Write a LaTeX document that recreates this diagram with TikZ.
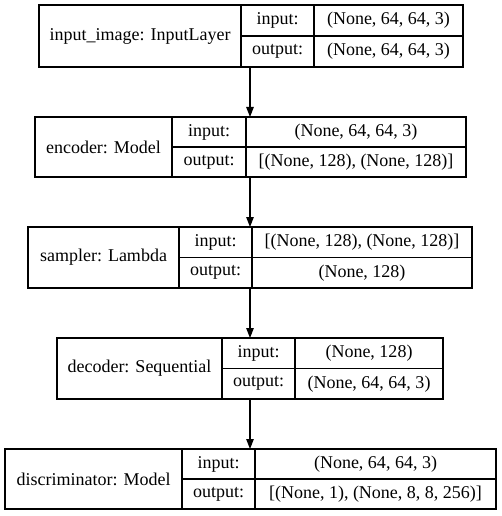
\documentclass[tikz,border=0pt]{standalone}
\usepackage{fontspec}
\setmainfont{Liberation Serif}
\usetikzlibrary{arrows.meta}
\tikzset{
  layer/.style={draw=black, line width=1.2pt, inner sep=0pt},
  cell/.style={draw=black, line width=1.2pt},
  txt/.style={font=\fontsize{18}{21}\selectfont, inner sep=0pt},
  arr/.style={draw=black, line width=1.2pt, -{Triangle[length=10pt,width=7.5pt]}},
}
\newcommand\layerbox[7]{%
  \pgfmathsetmacro\ym{(#6+#7)/2}%
  \node[layer, minimum width={(#5-#2)*1pt}, minimum height={(#7-#6)*1pt}] (#1) at ({(#2+#5)/2},\ym) {};
  \draw[cell] (#3,#6) -- (#3,#7) (#4,#6) -- (#4,#7) (#3,\ym) -- (#5,\ym);
  \coordinate (#1-name) at ({(#2+#3)/2},\ym);
  \coordinate (#1-ik) at ({(#3+#4)/2},{(#6+\ym)/2});
  \coordinate (#1-ok) at ({(#3+#4)/2},{(\ym+#7)/2});
  \coordinate (#1-iv) at ({(#4+#5)/2},{(#6+\ym)/2});
  \coordinate (#1-ov) at ({(#4+#5)/2},{(\ym+#7)/2});
}
\begin{document}
\begin{tikzpicture}[x=1pt,y=-1pt]
\useasboundingbox (0,0) rectangle (501,516);
\fill[white] (0,0) rectangle (501,516);

\layerbox{b1}{39}{241}{314}{463}{5}{67}
\node[txt] at (b1-name) {input\_image: InputLayer};
\node[txt] at (b1-ik) {input:};
\node[txt] at (b1-ok) {output:};
\node[txt] at (b1-iv) {(None, 64, 64, 3)};
\node[txt] at (b1-ov) {(None, 64, 64, 3)};

\layerbox{b2}{35}{172}{246}{466}{117}{177}
\node[txt] at (b2-name) {encoder: Model};
\node[txt] at (b2-ik) {input:};
\node[txt] at (b2-ok) {output:};
\node[txt] at (b2-iv) {(None, 64, 64, 3)};
\node[txt] at (b2-ov) {[(None, 128), (None, 128)]};

\layerbox{b3}{28}{179}{252}{472}{227}{288}
\node[txt] at (b3-name) {sampler: Lambda};
\node[txt] at (b3-ik) {input:};
\node[txt] at (b3-ok) {output:};
\node[txt] at (b3-iv) {[(None, 128), (None, 128)]};
\node[txt] at (b3-ov) {(None, 128)};

\layerbox{b4}{57}{222}{295}{443}{338}{399}
\node[txt] at (b4-name) {decoder: Sequential};
\node[txt] at (b4-ik) {input:};
\node[txt] at (b4-ok) {output:};
\node[txt] at (b4-iv) {(None, 128)};
\node[txt] at (b4-ov) {(None, 64, 64, 3)};

\layerbox{b5}{5}{182}{255}{496}{449}{509}
\node[txt] at (b5-name) {discriminator: Model};
\node[txt] at (b5-ik) {input:};
\node[txt] at (b5-ok) {output:};
\node[txt] at (b5-iv) {(None, 64, 64, 3)};
\node[txt] at (b5-ov) {[(None, 1), (None, 8, 8, 256)]};

\coordinate (a1) at (250,67);
\coordinate (a2) at (250,117);
\coordinate (a3) at (250,177);
\coordinate (a4) at (250,227);
\coordinate (a5) at (250,288);
\coordinate (a6) at (250,338);
\coordinate (a7) at (250,399);
\coordinate (a8) at (250,449);
\draw[arr] (a1) -- (a2);
\draw[arr] (a3) -- (a4);
\draw[arr] (a5) -- (a6);
\draw[arr] (a7) -- (a8);
\end{tikzpicture}
\end{document}
